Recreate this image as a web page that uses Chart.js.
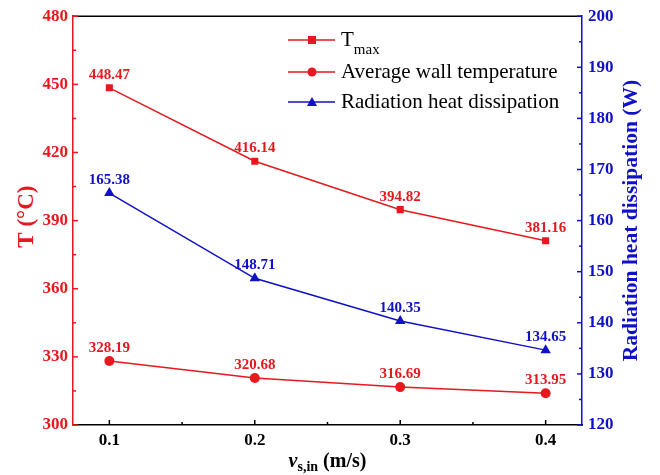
<!DOCTYPE html>
<html>
<head>
<meta charset="utf-8">
<script src="https://cdn.jsdelivr.net/npm/chart.js@4.4.1/dist/chart.umd.min.js"></script>
<style>
  html, body { margin: 0; padding: 0; background: #fff; }
  #wrap { width: 660px; height: 475px; }
</style>
</head>
<body>
<div id="wrap"><canvas id="chart" width="660" height="475"></canvas></div>
<script>
// data
const xValues = [0.1, 0.2, 0.3, 0.4]
const tMax = [448.47, 416.14, 394.82, 381.16]
const avgWall = [328.19, 320.68, 316.69, 313.95]
const radiation = [165.38, 148.71, 140.35, 134.65]
const leftTicks = [300, 330, 360, 390, 420, 450, 480]
const rightTicks = [120, 130, 140, 150, 160, 170, 180, 190, 200]

const RED = '#e8181f'
const BLUE = '#1010c8'
const FONT = "'Liberation Serif', 'Times New Roman', serif"

function pts(vals) {
  return vals.map((v, i) => ({ x: xValues[i], y: v }))
}

// inward ticks, major + minor
const innerTicks = {
  id: 'innerTicks',
  afterDraw(chart) {
    const c = chart.ctx
    const a = chart.chartArea
    const sx = chart.scales.x, sl = chart.scales.y, sr = chart.scales.y1
    c.save()
    c.lineWidth = 1.5
    // top frame
    c.strokeStyle = '#000'
    c.beginPath(); c.moveTo(a.left, a.top); c.lineTo(a.right, a.top); c.stroke()

    xValues.forEach((v, i) => {
      const px = sx.getPixelForValue(v)
      c.beginPath(); c.moveTo(px, a.bottom); c.lineTo(px, a.bottom - 5); c.stroke()
      if (i < xValues.length - 1) {
        const mx = sx.getPixelForValue((v + xValues[i + 1]) / 2)
        c.beginPath(); c.moveTo(mx, a.bottom); c.lineTo(mx, a.bottom - 3); c.stroke()
      }
    })
    c.strokeStyle = RED
    leftTicks.forEach((v, i) => {
      const py = sl.getPixelForValue(v)
      c.beginPath(); c.moveTo(a.left, py); c.lineTo(a.left + 5, py); c.stroke()
      if (i < leftTicks.length - 1) {
        const my = sl.getPixelForValue((v + leftTicks[i + 1]) / 2)
        c.beginPath(); c.moveTo(a.left, my); c.lineTo(a.left + 3, my); c.stroke()
      }
    })
    c.strokeStyle = BLUE
    rightTicks.forEach((v, i) => {
      const py = sr.getPixelForValue(v)
      c.beginPath(); c.moveTo(a.right, py); c.lineTo(a.right - 5, py); c.stroke()
      if (i < rightTicks.length - 1) {
        const my = sr.getPixelForValue((v + rightTicks[i + 1]) / 2)
        c.beginPath(); c.moveTo(a.right, my); c.lineTo(a.right - 3, my); c.stroke()
      }
    })
    c.restore()
  }
}

// value labels above the points
const valueLabels = {
  id: 'valueLabels',
  afterDatasetsDraw(chart) {
    const c = chart.ctx
    c.save()
    c.font = 'bold 15px ' + FONT
    c.textAlign = 'center'
    c.textBaseline = 'alphabetic'
    chart.data.datasets.forEach((ds, di) => {
      const meta = chart.getDatasetMeta(di)
      c.fillStyle = ds.borderColor
      meta.data.forEach((el, i) => {
        c.fillText(ds.data[i].y.toFixed(2), el.x, el.y - 9)
      })
    })
    c.restore()
  }
}

// axis titles and legend
const titles = {
  id: 'titles',
  afterDraw(chart) {
    const c = chart.ctx
    const a = chart.chartArea
    const midY = (a.top + a.bottom) / 2
    c.save()
    c.fillStyle = RED
    c.font = 'bold 23px ' + FONT
    c.textAlign = 'center'
    c.textBaseline = 'middle'
    c.translate(27, midY - 4)
    c.rotate(-Math.PI / 2)
    c.fillText('T (°C)', 0, 0)
    c.restore()

    c.save()
    c.fillStyle = BLUE
    c.font = 'bold 21.5px ' + FONT
    c.textAlign = 'center'
    c.textBaseline = 'middle'
    c.translate(631, midY)
    c.rotate(-Math.PI / 2)
    c.fillText('Radiation heat dissipation (W)', 0, 0)
    c.restore()

    // x title: v_s,in (m/s)
    c.save()
    c.fillStyle = '#000'
    c.textBaseline = 'alphabetic'
    const parts = [
      { t: 'v', f: 'bold italic 20px ' + FONT, dy: 0 },
      { t: 's,in', f: 'bold 14px ' + FONT, dy: 4 },
      { t: ' (m/s)', f: 'bold 20px ' + FONT, dy: 0 }
    ]
    let w = 0
    parts.forEach(p => { c.font = p.f; w += c.measureText(p.t).width })
    let x = (a.left + a.right) / 2 - w / 2
    parts.forEach(p => {
      c.font = p.f
      c.fillText(p.t, x, 467 + p.dy)
      x += c.measureText(p.t).width
    })
    c.restore()

    // legend
    c.save()
    const rows = [
      { color: RED, shape: 'rect', y: 40 },
      { color: RED, shape: 'circle', y: 72 },
      { color: BLUE, shape: 'triangle', y: 102 }
    ]
    rows.forEach(r => {
      c.strokeStyle = r.color
      c.fillStyle = r.color
      c.lineWidth = 1.5
      c.beginPath(); c.moveTo(288, r.y); c.lineTo(335, r.y); c.stroke()
      c.beginPath()
      if (r.shape === 'rect') c.rect(308, r.y - 4, 8, 8)
      else if (r.shape === 'circle') c.arc(312, r.y, 4.5, 0, Math.PI * 2)
      else { c.moveTo(312, r.y - 5); c.lineTo(317, r.y + 4); c.lineTo(307, r.y + 4); c.closePath() }
      c.fill()
    })
    c.fillStyle = '#000'
    c.textBaseline = 'middle'
    c.font = '21px ' + FONT
    c.fillText('T', 341, 40)
    const tw = c.measureText('T').width
    c.font = '15px ' + FONT
    c.fillText('max', 341 + tw, 50)
    c.font = '21px ' + FONT
    c.fillText('Average wall temperature', 341, 72)
    c.fillText('Radiation heat dissipation', 341, 102)
    c.restore()
  }
}

const ctx = document.getElementById('chart').getContext('2d')
const chart = new Chart(ctx, {
  type: 'line',
  data: {
    datasets: [
      {
        label: 'Tmax',
        data: pts(tMax),
        yAxisID: 'y',
        borderColor: RED,
        backgroundColor: RED,
        borderWidth: 1.5,
        pointStyle: 'rect',
        pointRadius: 5,
        pointBorderWidth: 0
      },
      {
        label: 'Average wall temperature',
        data: pts(avgWall),
        yAxisID: 'y',
        borderColor: RED,
        backgroundColor: RED,
        borderWidth: 1.5,
        pointStyle: 'circle',
        pointRadius: 5,
        pointBorderWidth: 0
      },
      {
        label: 'Radiation heat dissipation',
        data: pts(radiation),
        yAxisID: 'y1',
        borderColor: BLUE,
        backgroundColor: BLUE,
        borderWidth: 1.5,
        pointStyle: 'triangle',
        pointRadius: 6,
        pointBorderWidth: 0
      }
    ]
  },
  options: {
    responsive: false,
    animation: false,
    layout: { padding: { top: 13, left: 0, right: 0, bottom: 0 } },
    plugins: { legend: { display: false }, tooltip: { enabled: false } },
    scales: {
      x: {
        type: 'linear',
        min: 0.075,
        max: 0.425,
        afterBuildTicks: s => { s.ticks = xValues.map(v => ({ value: v })) },
        afterFit: s => { s.height = 50 },
        grid: { drawOnChartArea: false, drawTicks: false },
        border: { color: '#000', width: 1.5 },
        ticks: {
          color: '#000',
          padding: 5,
          font: { family: FONT, size: 17, weight: 'bold' },
          callback: v => v.toFixed(1)
        }
      },
      y: {
        position: 'left',
        min: 300,
        max: 480,
        afterBuildTicks: s => { s.ticks = leftTicks.map(v => ({ value: v })) },
        afterFit: s => { s.width = 73 },
        grid: { drawOnChartArea: false, drawTicks: false },
        border: { color: RED, width: 1.5 },
        ticks: {
          color: RED,
          padding: 5,
          font: { family: FONT, size: 17, weight: 'bold' }
        }
      },
      y1: {
        position: 'right',
        min: 120,
        max: 200,
        afterBuildTicks: s => { s.ticks = rightTicks.map(v => ({ value: v })) },
        afterFit: s => { s.width = 78 },
        grid: { drawOnChartArea: false, drawTicks: false },
        border: { color: BLUE, width: 1.5 },
        ticks: {
          color: BLUE,
          padding: 6,
          font: { family: FONT, size: 17, weight: 'bold' }
        }
      }
    }
  },
  plugins: [innerTicks, valueLabels, titles]
})
</script>
</body>
</html>
